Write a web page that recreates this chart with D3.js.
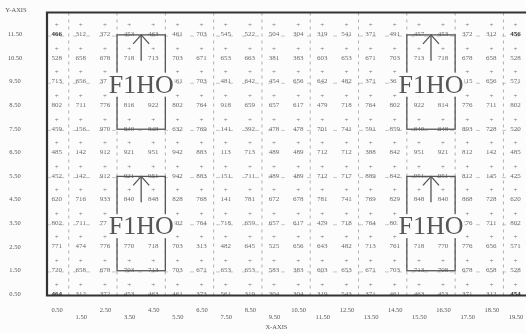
<!DOCTYPE html>
<html>
<head>
<meta charset="utf-8">
<script src="https://cdn.jsdelivr.net/npm/d3@7"></script>
<style>
  body { margin: 0; background: #fcfcfc; }
  svg { display: block; filter: blur(0.35px); }
  text { font-family: "Liberation Serif", "DejaVu Serif", serif; }
</style>
</head>
<body>
<script>
// grid values, one array per row (top row first); null = hidden under a label
var row11_5 = [466, 312, 372, 453, 463, 461, 703, 545, 522, 504, 304, 319, 541, 371, 491, 457, 453, 372, 312, 456];
var row10_5 = [528, 658, 678, 718, 713, 703, 671, 653, 663, 381, 383, 603, 653, 671, 703, 713, 718, 678, 658, 528];
var row9_5  = [713, 656, 371, null, null, 361, 703, 481, 642, 454, 656, 642, 482, 371, 361, null, null, 415, 656, 571];
var row8_5  = [802, 711, 776, 816, 922, 802, 764, 918, 659, 657, 617, 479, 718, 764, 802, 922, 814, 776, 711, 802];
var row7_5  = [459, 156, 970, 840, 848, 632, 769, 141, 392, 478, 478, 701, 741, 591, 859, 840, 848, 893, 728, 520];
var row6_5  = [485, 142, 912, 921, 951, 942, 883, 113, 713, 489, 489, 712, 712, 388, 842, 951, 921, 812, 142, 485];
var row5_5  = [452, 142, 912, 921, 951, 942, 883, 151, 711, 489, 489, 712, 717, 889, 842, 951, 951, 812, 145, 425];
var row4_5  = [620, 716, 933, 840, 848, 828, 768, 141, 781, 672, 678, 781, 741, 769, 829, 848, 840, 868, 728, 620];
var row3_5  = [802, 711, 771, null, null, 802, 764, 718, 659, 657, 617, 479, 718, 764, 802, null, null, 776, 711, 802];
var row2_5  = [771, 474, 776, 770, 718, 703, 313, 482, 645, 525, 656, 643, 482, 713, 761, 718, 770, 776, 656, 571];
var row1_5  = [720, 658, 678, 703, 713, 703, 671, 653, 653, 583, 383, 603, 653, 671, 703, 713, 708, 678, 658, 528];
var row0_5  = [464, 312, 372, 453, 463, 461, 373, 561, 319, 304, 304, 319, 543, 371, 461, 463, 453, 371, 312, 454];

// x / y positions of the columns and rows (also the tick values)
var xTicks = [0.5, 1.5, 2.5, 3.5, 4.5, 5.5, 6.5, 7.5, 8.5, 9.5, 10.5, 11.5, 12.5, 13.5, 14.5, 15.5, 16.5, 17.5, 18.5, 19.5];
var yTicks = [11.5, 10.5, 9.5, 8.5, 7.5, 6.5, 5.5, 4.5, 3.5, 2.5, 1.5, 0.5];
var rows = [row11_5, row10_5, row9_5, row8_5, row7_5, row6_5, row5_5, row4_5, row3_5, row2_5, row1_5, row0_5];

// dashed guide lines
var vGuides = [1, 3, 5, 7, 9, 11, 13, 15, 17, 19];
var hGuides = [11.5, 9.5, 7.5, 5.5, 3.5, 1.5];

// the four marked squares (data units) and their labels
var boxX0 = [3, 15, 3, 15];
var boxX1 = [5, 17, 5, 17];
var boxTop = [11.45, 11.45, 5.45, 5.45];
var boxBottom = [7.45, 7.45, 1.45, 1.45];
var boxLabelY = [9.0, 9.0, 3.0, 3.0];
var boxLabels = ["F1HO", "F1HO", "F1HO", "F1HO"];

var width = 526, height = 334;

var x = d3.scaleLinear().domain([0.1, 20.1]).range([47, 530]);
var y = d3.scaleLinear().domain([0.4, 12.4]).range([295.5, 12.5]);

var svg = d3.select("body").append("svg")
    .attr("width", width)
    .attr("height", height);

// guides
svg.selectAll(".vg")
    .data(vGuides)
    .enter().append("line")
    .attr("x1", function (d) { return x(d); })
    .attr("x2", function (d) { return x(d); })
    .attr("y1", y(12.4))
    .attr("y2", y(0.4))
    .attr("stroke", "#9a9a9a")
    .attr("stroke-width", 0.8)
    .attr("stroke-dasharray", "3,4");

svg.selectAll(".hg")
    .data(hGuides)
    .enter().append("line")
    .attr("x1", x(0.1))
    .attr("x2", x(20.1))
    .attr("y1", function (d) { return y(d - 0.1); })
    .attr("y2", function (d) { return y(d - 0.1); })
    .attr("stroke", "#b0b0b0")
    .attr("stroke-width", 0.7)
    .attr("stroke-dasharray", "4,9");

// cells: number with a "+" above (hidden cells skipped)
var cells = [];
rows.forEach(function (r, i) {
    r.forEach(function (v, j) {
        if (v === null) return;
        cells.push({ x: xTicks[j], y: yTicks[i], v: v, corner: (i === 0 || i === rows.length - 1) && (j === 0 || j === r.length - 1) });
    });
});

var cell = svg.selectAll(".cell")
    .data(cells)
    .enter().append("g")
    .attr("transform", function (d) { return "translate(" + x(d.x) + "," + y(d.y) + ")"; });

cell.append("text")
    .attr("text-anchor", "middle")
    .attr("dy", "0.35em")
    .style("font-size", "7px")
    .style("font-weight", function (d) { return d.corner ? "bold" : "normal"; })
    .attr("fill", function (d) { return d.corner ? "#333" : "#6a6a6a"; })
    .text(function (d) { return d.v; });

cell.append("text")
    .attr("text-anchor", "middle")
    .attr("y", -9)
    .attr("dy", "0.35em")
    .style("font-size", "7px")
    .attr("fill", "#777")
    .text("+");

// squares with arrows
var boxes = boxX0.map(function (d, i) {
    return { x0: d, x1: boxX1[i], top: boxTop[i], bottom: boxBottom[i], ly: boxLabelY[i], label: boxLabels[i] };
});

var bg = svg.selectAll(".box")
    .data(boxes)
    .enter().append("g");

bg.append("rect")
    .attr("x", function (d) { return x(d.x0); })
    .attr("y", function (d) { return y(d.top); })
    .attr("width", function (d) { return x(d.x1) - x(d.x0); })
    .attr("height", function (d) { return y(d.bottom) - y(d.top); })
    .attr("fill", "none")
    .attr("stroke", "#555")
    .attr("stroke-width", 1.3);

bg.append("line")
    .attr("x1", function (d) { return x((d.x0 + d.x1) / 2); })
    .attr("x2", function (d) { return x((d.x0 + d.x1) / 2); })
    .attr("y1", function (d) { return y(d.top); })
    .attr("y2", function (d) { return y(d.top - 1.1); })
    .attr("stroke", "#555")
    .attr("stroke-width", 1.3);

bg.append("path")
    .attr("d", function (d) {
        var cx = x((d.x0 + d.x1) / 2), cy = y(d.top);
        return "M" + (cx - 8) + "," + (cy + 9) + "L" + cx + "," + cy + "L" + (cx + 8) + "," + (cy + 9);
    })
    .attr("fill", "none")
    .attr("stroke", "#555")
    .attr("stroke-width", 1.3);

// big labels with white box behind
var lab = bg.append("text")
    .attr("x", function (d) { return x((d.x0 + d.x1) / 2); })
    .attr("y", function (d) { return y(d.ly); })
    .attr("text-anchor", "middle")
    .style("font-size", "26px")
    .attr("fill", "#555")
    .text(function (d) { return d.label; });

lab.each(function () {
    var b = this.getBBox();
    d3.select(this.parentNode).insert("rect", function () { return this.lastChild; })
        .attr("x", b.x - 1)
        .attr("y", b.y + 3)
        .attr("width", b.width + 2)
        .attr("height", b.height - 5)
        .attr("fill", "#fcfcfc");
});

// frame
svg.append("path")
    .attr("d", "M" + x(20.3) + "," + y(12.4) + "H" + x(0.1) + "V" + y(0.4) + "H" + x(20.3))
    .attr("fill", "none")
    .attr("stroke", "#333")
    .attr("stroke-width", 2.2);

// axes
var xAxis = svg.append("g")
    .attr("transform", "translate(0," + y(0.4) + ")")
    .call(d3.axisBottom(x).tickValues(xTicks).tickSize(0).tickFormat(d3.format(".2f")));
xAxis.select(".domain").remove();
xAxis.selectAll("text")
    .attr("y", function (d, i) { return i % 2 === 0 ? 16 : 23; })
    .attr("dy", 0)
    .attr("fill", "#555")
    .style("font-size", "6.5px")
    .style("font-family", "Liberation Serif, serif");

var yAxis = svg.append("g")
    .attr("transform", "translate(" + x(0.1) + ",0)")
    .call(d3.axisLeft(y).tickValues(yTicks).tickSize(0).tickFormat(d3.format(".2f")));
yAxis.select(".domain").remove();
yAxis.selectAll("text")
    .attr("x", -32)
    .attr("text-anchor", "middle")
    .attr("fill", "#555")
    .style("font-size", "6.5px")
    .style("font-family", "Liberation Serif, serif");

svg.append("text")
    .attr("x", x(9.6))
    .attr("y", 329)
    .attr("text-anchor", "middle")
    .attr("fill", "#555")
    .style("font-size", "6.5px")
    .text("X-AXIS");

svg.append("text")
    .attr("x", 16)
    .attr("y", 12)
    .attr("text-anchor", "middle")
    .attr("fill", "#555")
    .style("font-size", "6.5px")
    .text("Y-AXIS");
</script>
</body>
</html>
